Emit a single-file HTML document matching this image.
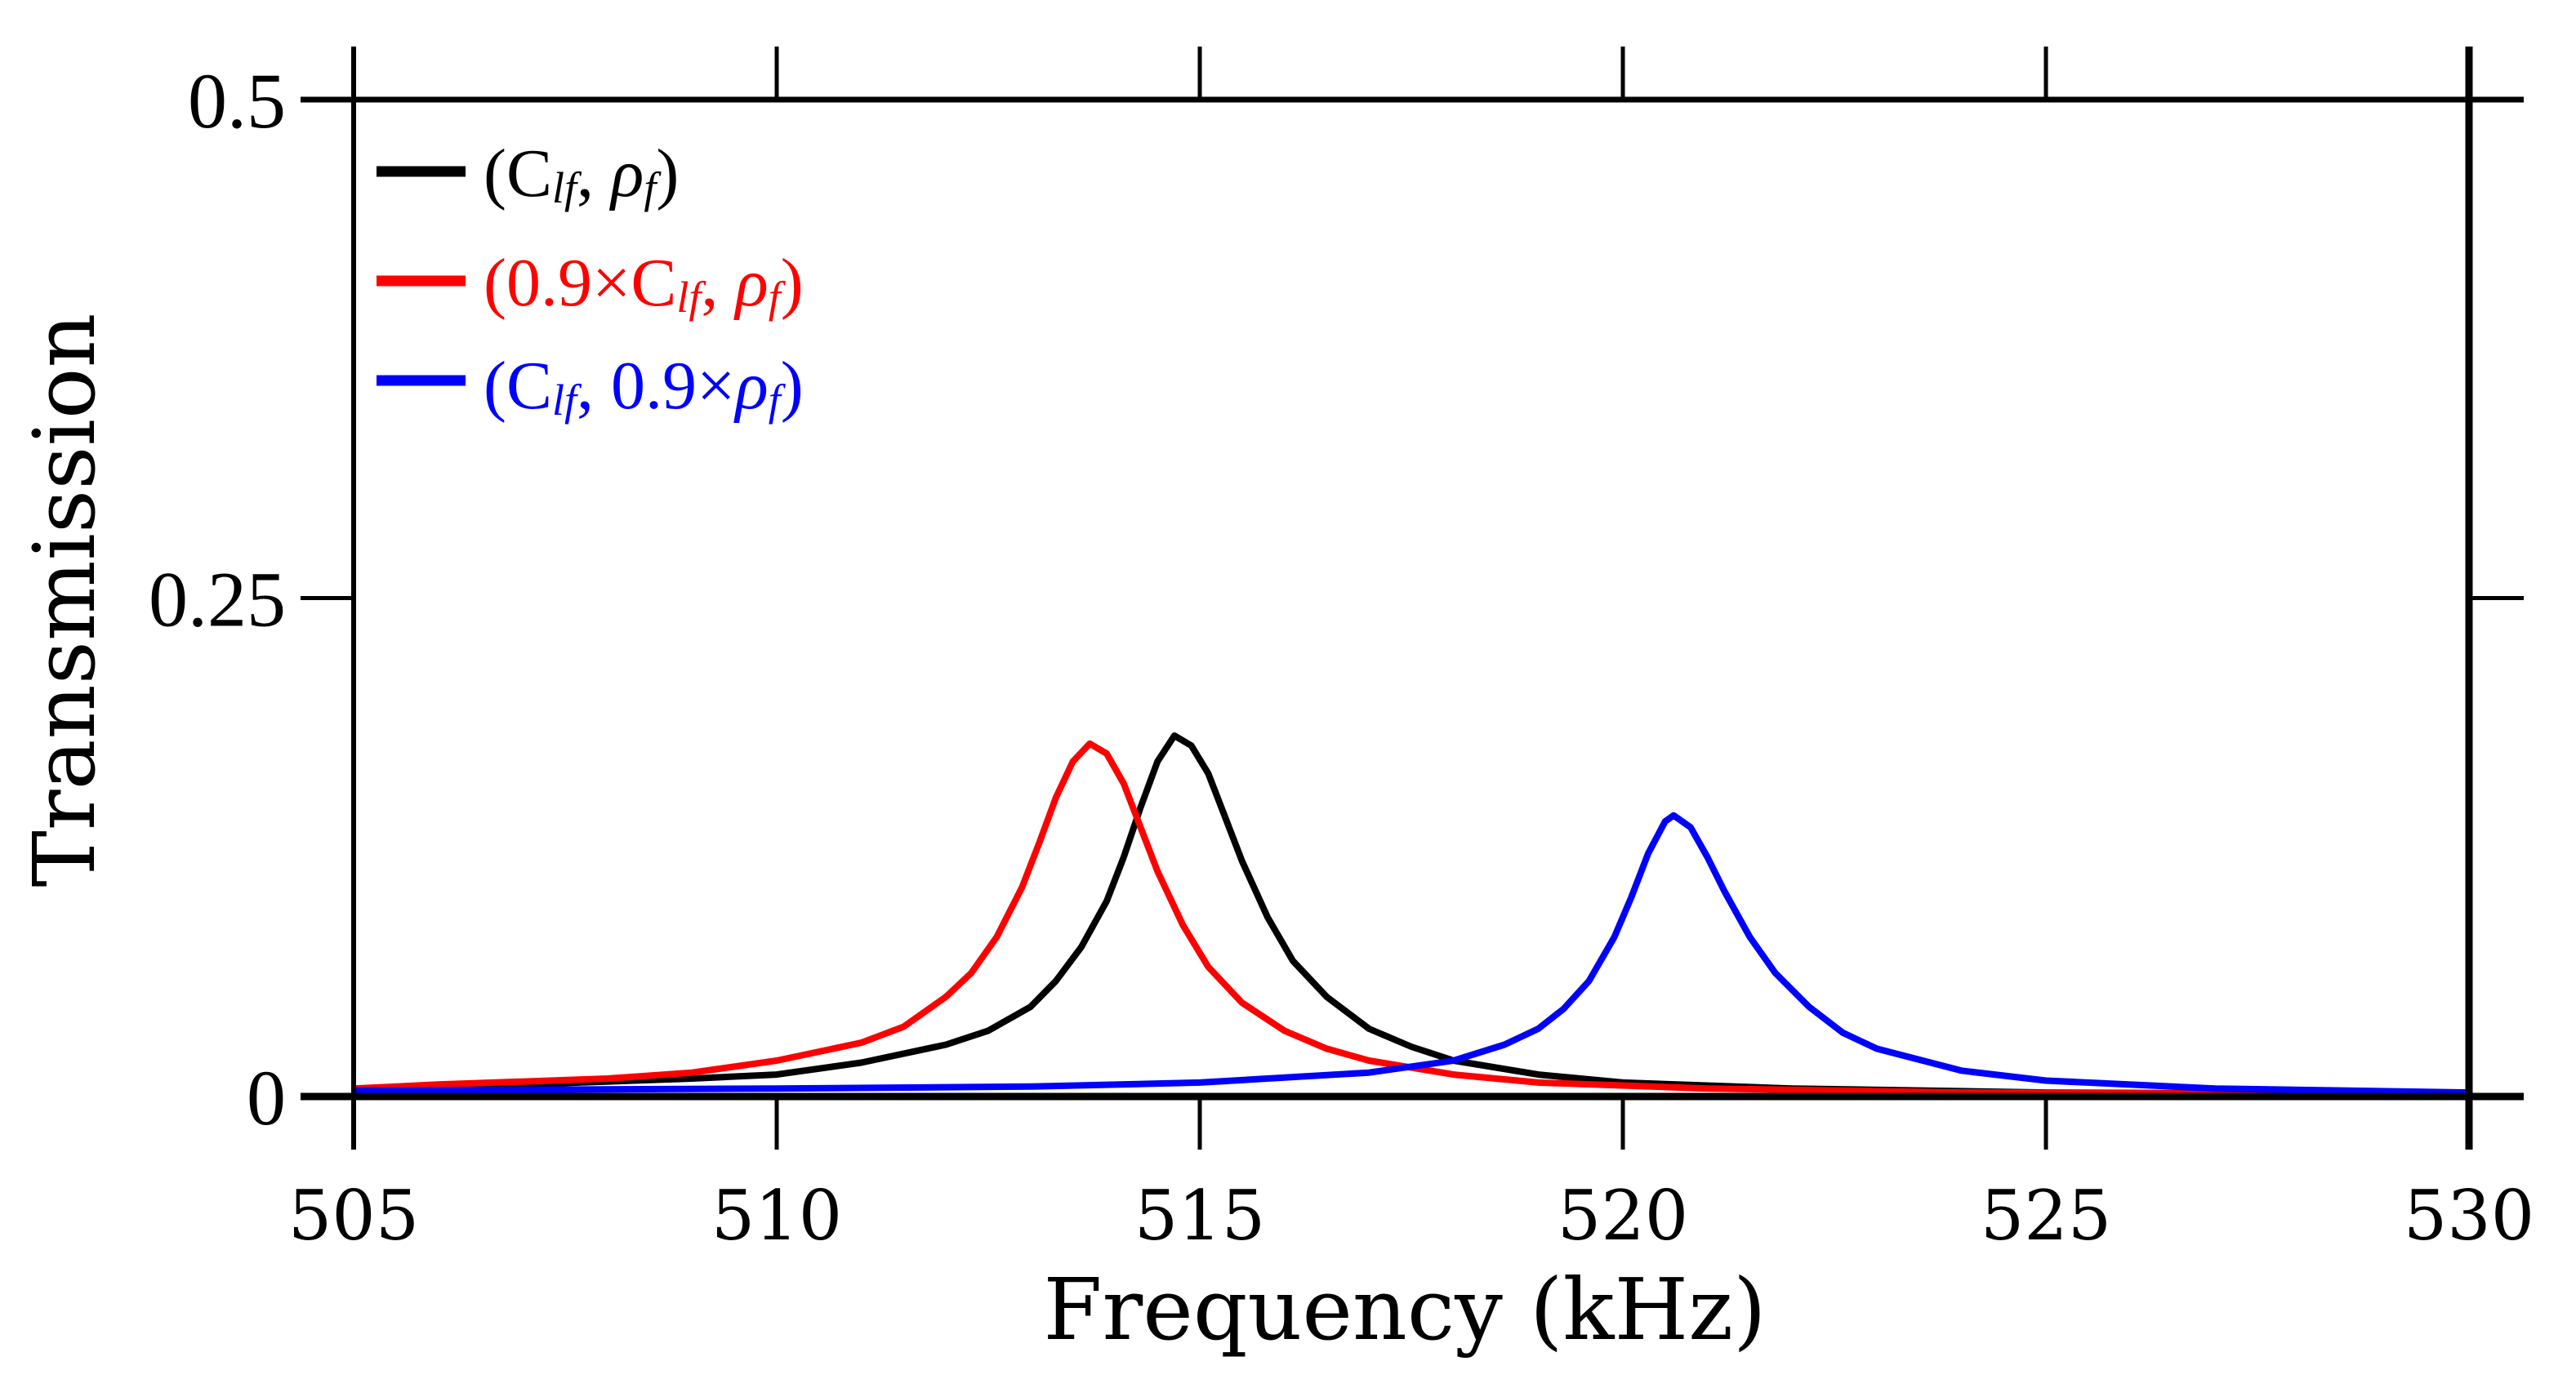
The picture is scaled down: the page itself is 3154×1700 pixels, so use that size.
<!DOCTYPE html>
<html><head><meta charset="utf-8">
<style>
html,body{margin:0;padding:0;background:#fff;}
svg{display:block;}
</style></head>
<body>
<svg id="chart" width="3154" height="1700" viewBox="0 0 3154 1700" xmlns="http://www.w3.org/2000/svg" font-family="'Liberation Serif', 'DejaVu Serif', serif">
<g id="marks"></g>
<g id="axes"></g>
<g>
  <line x1="461" y1="210" x2="570" y2="210" stroke="#000" stroke-width="13"/>
  <text x="592" y="240" font-size="84" fill="#000">(C<tspan font-style="italic" font-size="54" dy="8">lf</tspan><tspan dy="-8">, </tspan><tspan font-style="italic">ρ</tspan><tspan font-style="italic" font-size="54" dy="8">f</tspan><tspan dy="-8">)</tspan></text>
  <line x1="461" y1="344" x2="570" y2="344" stroke="#f00" stroke-width="13"/>
  <text x="592" y="374" font-size="84" fill="#f00">(0.9×C<tspan font-style="italic" font-size="54" dy="8">lf</tspan><tspan dy="-8">, </tspan><tspan font-style="italic">ρ</tspan><tspan font-style="italic" font-size="54" dy="8">f</tspan><tspan dy="-8">)</tspan></text>
  <line x1="461" y1="466" x2="570" y2="466" stroke="#00f" stroke-width="13"/>
  <text x="592" y="500" font-size="84" fill="#00f">(C<tspan font-style="italic" font-size="54" dy="8">lf</tspan><tspan dy="-8">, 0.9×</tspan><tspan font-style="italic">ρ</tspan><tspan font-style="italic" font-size="54" dy="8">f</tspan><tspan dy="-8">)</tspan></text>
</g>
<text x="1720" y="1640" font-size="104" text-anchor="middle" fill="#000" font-family="'DejaVu Serif', serif">Frequency (kHz)</text>
<text x="0" y="0" font-size="104" text-anchor="middle" fill="#000" font-family="'DejaVu Serif', serif" transform="translate(115,735) rotate(-90)">Transmission</text>
</svg>
<script>
const xTicks = [505, 510, 515, 520, 525, 530];
const yTicks = [0, 0.25, 0.5];
const yTickLabels = ["0", "0.25", "0.5"];
const blackX = [505,507,509,510,511,512,512.5,513,513.3,513.6,513.9,514.1,514.3,514.5,514.7,514.9,515.1,515.3,515.5,515.8,516.1,516.5,517,517.5,518,519,520,522,525,530];
const blackY = [0.004,0.006,0.009,0.011,0.017,0.026,0.033,0.045,0.058,0.075,0.098,0.12,0.145,0.168,0.181,0.176,0.162,0.14,0.118,0.09,0.068,0.05,0.034,0.025,0.018,0.011,0.007,0.004,0.002,0.001];
const redX = [505,506,508,509,510,511,511.5,512,512.3,512.6,512.9,513.1,513.3,513.5,513.7,513.9,514.1,514.3,514.5,514.8,515.1,515.5,516,516.5,517,518,519,521,524,530];
const redY = [0.004,0.006,0.009,0.012,0.018,0.027,0.035,0.05,0.062,0.08,0.105,0.127,0.15,0.168,0.177,0.172,0.157,0.135,0.113,0.086,0.065,0.047,0.033,0.024,0.018,0.011,0.007,0.004,0.002,0.001];
const blueX = [505,510,513,515,517,518,518.6,519,519.3,519.6,519.9,520.1,520.3,520.5,520.6,520.8,521,521.2,521.5,521.8,522.2,522.6,523,524,525,527,530];
const blueY = [0.003,0.004,0.005,0.007,0.012,0.018,0.026,0.034,0.044,0.058,0.08,0.1,0.122,0.138,0.141,0.135,0.12,0.103,0.08,0.062,0.045,0.032,0.024,0.013,0.008,0.004,0.002];

const X0=433, X1=3023, Y0=1343, Y1=122;
const xs = v => X0 + (v-505)/(530-505)*(X1-X0);
const ys = v => Y0 - (v-0)/(0.5-0)*(Y0-Y1);
const NS="http://www.w3.org/2000/svg";
const marks=document.getElementById('marks'), axes=document.getElementById('axes');
function mk(tag, parent){const e=document.createElementNS(NS,tag);parent.appendChild(e);return e;}

function series(xa, ya, color, name){
  const p=mk('path',marks);
  
  
  p.setAttribute('d', xa.map((x,i)=>(i?'L':'M')+xs(x).toFixed(1)+','+ys(ya[i]).toFixed(1)).join(''));
  p.setAttribute('fill','none');p.setAttribute('stroke',color);p.setAttribute('stroke-width','8');p.setAttribute('stroke-linejoin','round');
}
series(blackX, blackY, '#000', 'series-clf-rhof');
series(redX, redY, '#f00', 'series-0.9clf-rhof');
series(blueX, blueY, '#00f', 'series-clf-0.9rhof');

function ln(x1,y1,x2,y2,w,name){const l=mk('line',axes);
  
  
  l.setAttribute('x1',x1);l.setAttribute('y1',y1);l.setAttribute('x2',x2);l.setAttribute('y2',y2);l.setAttribute('stroke','#000');l.setAttribute('stroke-width',w);}
ln(X0,Y1-65,X0,Y0+65,6,'left-axis');
ln(X1,Y1-65,X1,Y0+65,9,'right-axis');
ln(X0-65,Y1,3090,Y1,7,'top-axis');
ln(X0-65,Y0,3090,Y0,9,'bottom-axis');
xTicks.forEach((t,i)=>{
  ln(xs(t),Y1-65,xs(t),Y1,5,'top-tick');
  ln(xs(t),Y0,xs(t),Y0+65,5,'x-tick');
  const tx=mk('text',axes);
  
  
  tx.setAttribute('x',xs(t));tx.setAttribute('y',1518);tx.setAttribute('font-size','84');tx.setAttribute('text-anchor','middle');tx.setAttribute('font-family',"'DejaVu Serif', serif");
  tx.textContent=String(t);
});
yTicks.forEach((t,i)=>{
  ln(X0-65,ys(t),X0,ys(t),5,'y-tick');
  ln(X1,ys(t),3090,ys(t),5,'right-tick');
  const tx=mk('text',axes);
  
  
  tx.setAttribute('x',350);tx.setAttribute('y',ys(t)+34);tx.setAttribute('font-size','96');tx.setAttribute('text-anchor','end');
  tx.textContent=yTickLabels[i];
});
</script>
</body></html>
